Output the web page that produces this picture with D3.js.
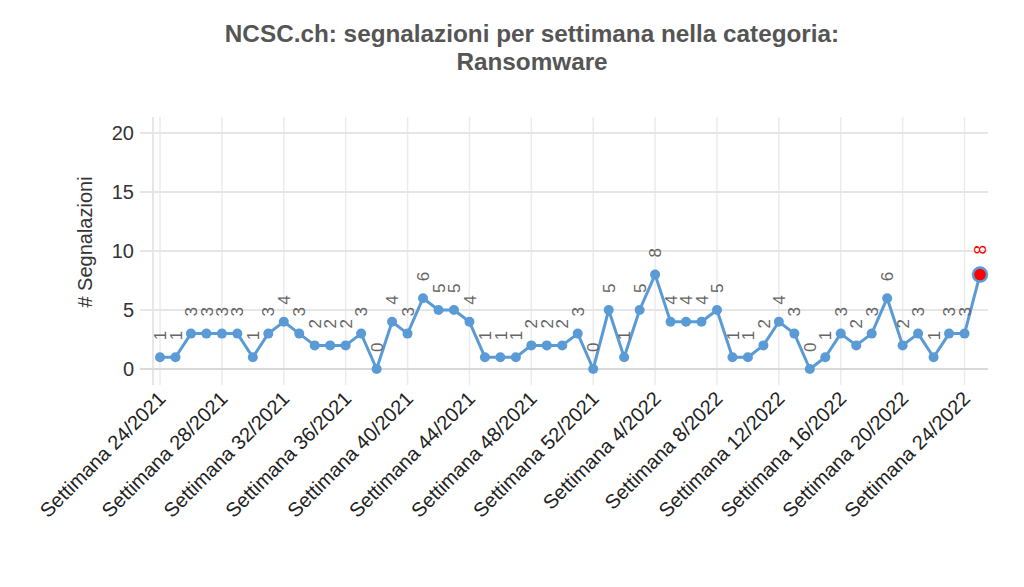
<!DOCTYPE html>
<html>
<head>
<meta charset="utf-8">
<script src="https://cdn.jsdelivr.net/npm/d3@7"></script>
<style>
  body { margin: 0; background: #fff; }
  text { font-family: "Liberation Sans", Arial, sans-serif; }
</style>
</head>
<body>
<div id="chart"></div>
<script>
// weeks 24/2021 .. 25/2022
const weeks2021 = d3.range(24, 53).map(w => 'Settimana ' + w + '/2021')
const weeks2022 = d3.range(1, 26).map(w => 'Settimana ' + w + '/2022')
const weeks = weeks2021.concat(weeks2022)

const counts = [
  1, 1, 3, 3, 3, 3, 1, 3, 4, 3, 2, 2, 2, 3, 0, 4, 3, 6, 5, 5, 4, 1, 1, 1, 2, 2, 2, 3, 0,
  5, 1, 5, 8, 4, 4, 4, 5, 1, 1, 2, 4, 3, 0, 1, 3, 2, 3, 6, 2, 3, 1, 3, 3, 8
]

const yTicks = [0, 5, 10, 15, 20]

const width = 1024
const height = 587

const svg = d3
  .select('#chart')
  .append('svg')
  .attr('width', width)
  .attr('height', height)

const x = d3.scalePoint().domain(weeks).range([160, 980])
const y = d3.scaleLinear().domain([0, 20]).range([369, 133])

const gridLeft = 140
const gridRight = 988
const gridTop = 117
const gridBottom = 385

// title
svg.append('text')
  .attr('x', 532).attr('y', 42)
  .attr('text-anchor', 'middle')
  .attr('font-size', 24.3).attr('font-weight', 'bold')
  .attr('fill', '#555')
  .text('NCSC.ch: segnalazioni per settimana nella categoria:')
svg.append('text')
  .attr('x', 532).attr('y', 70)
  .attr('text-anchor', 'middle')
  .attr('font-size', 24.3).attr('font-weight', 'bold')
  .attr('fill', '#555')
  .text('Ransomware')

// vertical grid (every 4 weeks)
const tickWeeks = weeks.filter((d, i) => i % 4 === 0)

svg.append('line')
  .attr('x1', 153).attr('x2', 153)
  .attr('y1', gridTop).attr('y2', gridBottom)
  .attr('stroke', '#e6e6e6').attr('stroke-width', 2)

svg.selectAll('.vgrid')
  .data(tickWeeks)
  .enter()
  .append('line')
  .attr('class', 'vgrid')
  .attr('x1', d => x(d)).attr('x2', d => x(d))
  .attr('y1', gridTop).attr('y2', gridBottom)
  .attr('stroke', '#ebebeb').attr('stroke-width', 1.5)

// horizontal grid
svg.selectAll('.hgrid')
  .data(yTicks)
  .enter()
  .append('line')
  .attr('class', 'hgrid')
  .attr('x1', gridLeft).attr('x2', gridRight)
  .attr('y1', d => y(d)).attr('y2', d => y(d))
  .attr('stroke', d => d === 0 ? '#d9d9d9' : '#e6e6e6')
  .attr('stroke-width', 2)

// y tick labels
svg.selectAll('.ytick')
  .data(yTicks)
  .enter()
  .append('text')
  .attr('class', 'ytick')
  .attr('x', 134).attr('y', d => y(d))
  .attr('dy', '0.36em')
  .attr('text-anchor', 'end')
  .attr('font-size', 20)
  .attr('fill', '#333')
  .text(d => d)

// y axis title
svg.append('text')
  .attr('transform', 'translate(92,242) rotate(-90)')
  .attr('text-anchor', 'middle')
  .attr('font-size', 20)
  .attr('fill', '#333')
  .text('# Segnalazioni')

// x tick labels
svg.selectAll('.xtick')
  .data(tickWeeks)
  .enter()
  .append('text')
  .attr('class', 'xtick')
  .attr('transform', d => `translate(${x(d) - 3},${390}) rotate(-45)`)
  .attr('text-anchor', 'end')
  .attr('dy', '0.7em')
  .attr('font-size', 20)
  .attr('fill', '#222')
  .text(d => d)

// line
const line = d3.line()
  .x((d, i) => x(weeks[i]))
  .y(d => y(d))

svg.append('path')
  .datum(counts)
  .attr('d', line)
  .attr('fill', 'none')
  .attr('stroke', '#5b9bd5')
  .attr('stroke-width', 3)
  .attr('stroke-linejoin', 'round')

const last = counts.length - 1

svg.selectAll('.dot')
  .data(counts)
  .enter()
  .append('circle')
  .attr('class', 'dot')
  .attr('cx', (d, i) => x(weeks[i]))
  .attr('cy', d => y(d))
  .attr('r', (d, i) => i === last ? 7 : 5)
  .attr('fill', (d, i) => i === last ? '#ff0000' : '#5b9bd5')
  .attr('stroke', (d, i) => i === last ? '#5b9bd5' : 'none')
  .attr('stroke-width', 2.5)

// value labels
svg.selectAll('.vlabel')
  .data(counts)
  .enter()
  .append('text')
  .attr('class', 'vlabel')
  .attr('transform', (d, i) => `translate(${x(weeks[i])},${y(d) - (i === last ? 20 : 17)}) rotate(-90)`)
  .attr('dy', '0.36em')
  .attr('text-anchor', 'start')
  .attr('font-size', 17)
  .attr('fill', (d, i) => i === last ? '#ff0000' : '#666')
  .text(d => d)
</script>
</body>
</html>
